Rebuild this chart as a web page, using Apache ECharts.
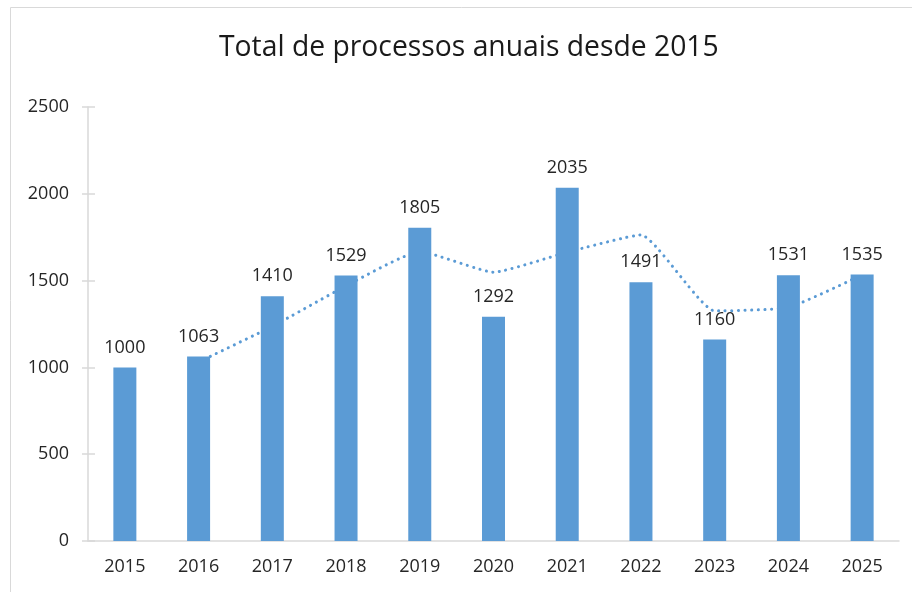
<!DOCTYPE html>
<html><head><meta charset="utf-8">
<script src="https://cdn.jsdelivr.net/npm/echarts@6/dist/echarts.min.js"></script>
<style>html,body{margin:0;padding:0;background:#fff}#c{width:912px;height:592px}</style>
</head><body><div id="c"></div>
<script>
const titleText = 'Total de processos anuais desde 2015';
const years = ['2015','2016','2017','2018','2019','2020','2021','2022','2023','2024','2025'];
const totals = [1000,1063,1410,1529,1805,1292,2035,1491,1160,1531,1535];
const trend = [null,1031.5,1236.5,1469.5,1667,1548.5,1663.5,1763,1325.5,1345.5,1533];
const yTicks = [0,500,1000,1500,2000,2500];

const font = '"Open Sans", "Noto Sans", sans-serif';
const chart = echarts.init(document.getElementById('c'), null, {renderer:'canvas'});
const axisCommon = {type:'value', min:yTicks[0], max:yTicks[yTicks.length-1], interval:yTicks[1]-yTicks[0], splitLine:{show:false}};
chart.setOption({
  animation:false,
  graphic:[{type:'rect', shape:{x:10.5,y:7.5,width:920,height:600}, style:{fill:'none', stroke:'#d9d9d9', lineWidth:1}, silent:true}],
  title:{text:titleText, left:214, top:29, textStyle:{fontFamily:font, fontSize:28.3, fontWeight:'normal', color:'#1a1a1a'}},
  grid:{left:88, right:13, top:107, bottom:51},
  xAxis:{type:'category', data:years,
    axisLine:{lineStyle:{color:'#d9d9d9', width:1.5}},
    axisTick:{show:false},
    axisLabel:{fontFamily:font, fontSize:18, color:'#262626', margin:17}},
  yAxis:[
    Object.assign({}, axisCommon, {
      axisLine:{show:true, lineStyle:{color:'#d9d9d9', width:1.5}},
      axisTick:{show:true, length:6, lineStyle:{color:'#d9d9d9', width:1.5}},
      axisLabel:{fontFamily:font, fontSize:18, color:'#262626', margin:19, formatter:v=>String(v)}}),
    Object.assign({}, axisCommon, {position:'left', offset:0,
      axisLine:{show:false},
      axisTick:{show:true, inside:true, length:7, lineStyle:{color:'#d9d9d9', width:1.5}},
      axisLabel:{show:false}})
  ],
  series:[
    {type:'line', data:trend, smooth:0.15, symbol:'none', z:1,
      lineStyle:{color:'#5b9bd5', width:3, type:[0.1,6.5], cap:'round'}},
    {type:'bar', data:totals, barWidth:23, z:2,
      itemStyle:{color:'#5b9bd5'},
      label:{show:true, position:'top', distance:11, fontFamily:font, fontSize:18, color:'#262626'}}
  ]
});
</script></body></html>
